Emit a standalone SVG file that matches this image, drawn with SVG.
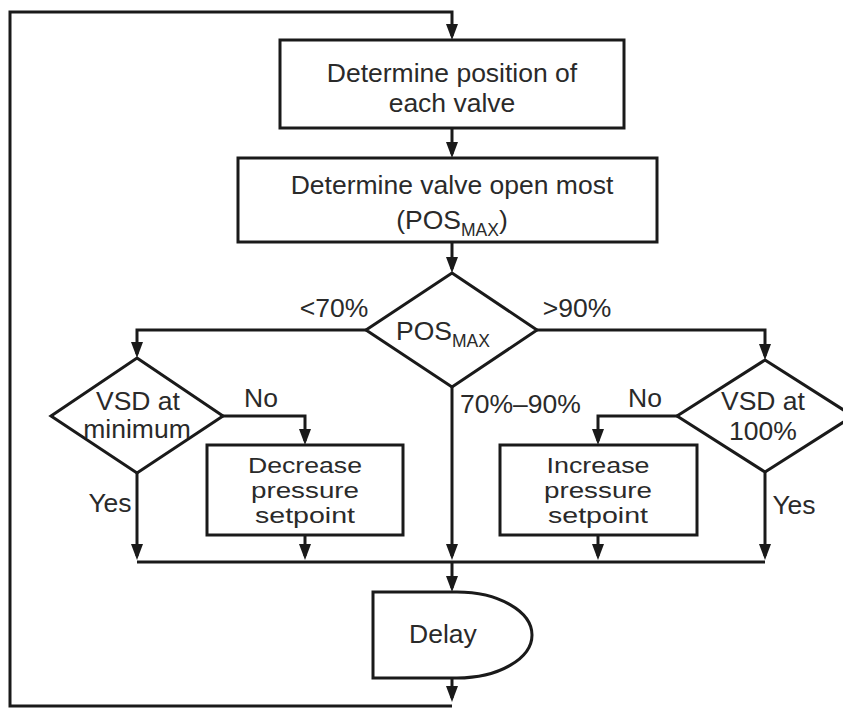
<svg xmlns="http://www.w3.org/2000/svg" width="843" height="709" viewBox="0 0 843 709">
<style>
.s{fill:#fff;stroke:#1a1a1a;stroke-width:3}
.c{fill:none;stroke:#1a1a1a;stroke-width:3}
text{font-family:"Liberation Sans",Arial,sans-serif;font-size:26.5px;fill:#2a2a2a}
.m{text-anchor:middle}
.sub{font-size:17.5px}
.b{font-size:22px}
</style>
<defs>
<marker id="a" markerUnits="userSpaceOnUse" markerWidth="16" markerHeight="12" refX="12" refY="6" orient="auto">
<path d="M0,0 L16,6 L0,12 z" fill="#1a1a1a"/>
</marker>
</defs>
<rect width="843" height="709" fill="#fff"/>
<g id="connectors">
<path class="c" d="M452,706 H10 V12 H452 V36" marker-end="url(#a)"/>
<path class="c" d="M452,128 V154" marker-end="url(#a)"/>
<path class="c" d="M452,242 V269" marker-end="url(#a)"/>
<path class="c" d="M366,330 H137 V354" marker-end="url(#a)"/>
<path class="c" d="M537,330 H765 V356" marker-end="url(#a)"/>
<path class="c" d="M223,416 H305 V441" marker-end="url(#a)"/>
<path class="c" d="M677,416 H598 V441" marker-end="url(#a)"/>
<path class="c" d="M137,473 V556" marker-end="url(#a)"/>
<path class="c" d="M305,535 V556" marker-end="url(#a)"/>
<path class="c" d="M452,387 V556" marker-end="url(#a)"/>
<path class="c" d="M598,535 V556" marker-end="url(#a)"/>
<path class="c" d="M765,472 V556" marker-end="url(#a)"/>
<path class="c" d="M137,562 H765"/>
<path class="c" d="M452,562 V588" marker-end="url(#a)"/>
<path class="c" d="M452,678 V698" marker-end="url(#a)"/>
<text x="334" y="317" class="m">&lt;70%</text>
<text x="577" y="317" class="m">&gt;90%</text>
<text x="460" y="413">70%–90%</text>
<text x="261" y="407" class="m">No</text>
<text x="645" y="407" class="m">No</text>
<text x="110" y="512" class="m">Yes</text>
<text x="794" y="514" class="m">Yes</text>
</g>
<g id="n1">
<rect class="s" x="280" y="40" width="344" height="88"/>
<text x="452" y="82" class="m">Determine position of</text>
<text x="452" y="112" class="m">each valve</text>
</g>
<g id="n2">
<rect class="s" x="238" y="158" width="419" height="84"/>
<text x="452" y="194" class="m">Determine valve open most</text>
<text x="452" y="229" class="m">(POS<tspan class="sub" dy="7">MAX</tspan><tspan dy="-7">)</tspan></text>
</g>
<g id="d1">
<polygon class="s" points="452,273 537,330 452,387 366,330"/>
<text x="443" y="340" class="m">POS<tspan class="sub" dy="7">MAX</tspan></text>
</g>
<g id="d2">
<polygon class="s" points="137,358 223,416 137,473 51,416"/>
<text x="138" y="410" class="m">VSD at</text>
<text x="137" y="438" class="m">minimum</text>
</g>
<g id="d3">
<polygon class="s" points="765,360 853,416 765,472 677,416"/>
<text x="763" y="410" class="m">VSD at</text>
<text x="763" y="440" class="m">100%</text>
</g>
<g id="n3">
<rect class="s" x="207" y="445" width="196" height="90"/>
<text x="305" y="473" class="m b" textLength="114" lengthAdjust="spacingAndGlyphs">Decrease</text>
<text x="305" y="498" class="m b" textLength="108" lengthAdjust="spacingAndGlyphs">pressure</text>
<text x="305" y="523" class="m b" textLength="100" lengthAdjust="spacingAndGlyphs">setpoint</text>
</g>
<g id="n4">
<rect class="s" x="500" y="445" width="197" height="90"/>
<text x="598" y="473" class="m b" textLength="103" lengthAdjust="spacingAndGlyphs">Increase</text>
<text x="598" y="498" class="m b" textLength="108" lengthAdjust="spacingAndGlyphs">pressure</text>
<text x="598" y="523" class="m b" textLength="100" lengthAdjust="spacingAndGlyphs">setpoint</text>
</g>
<g id="n5">
<path class="s" d="M373,592 H457 A75,43 0 0 1 457,678 H373 Z"/>
<text x="443" y="643" class="m">Delay</text>
</g>
</svg>
